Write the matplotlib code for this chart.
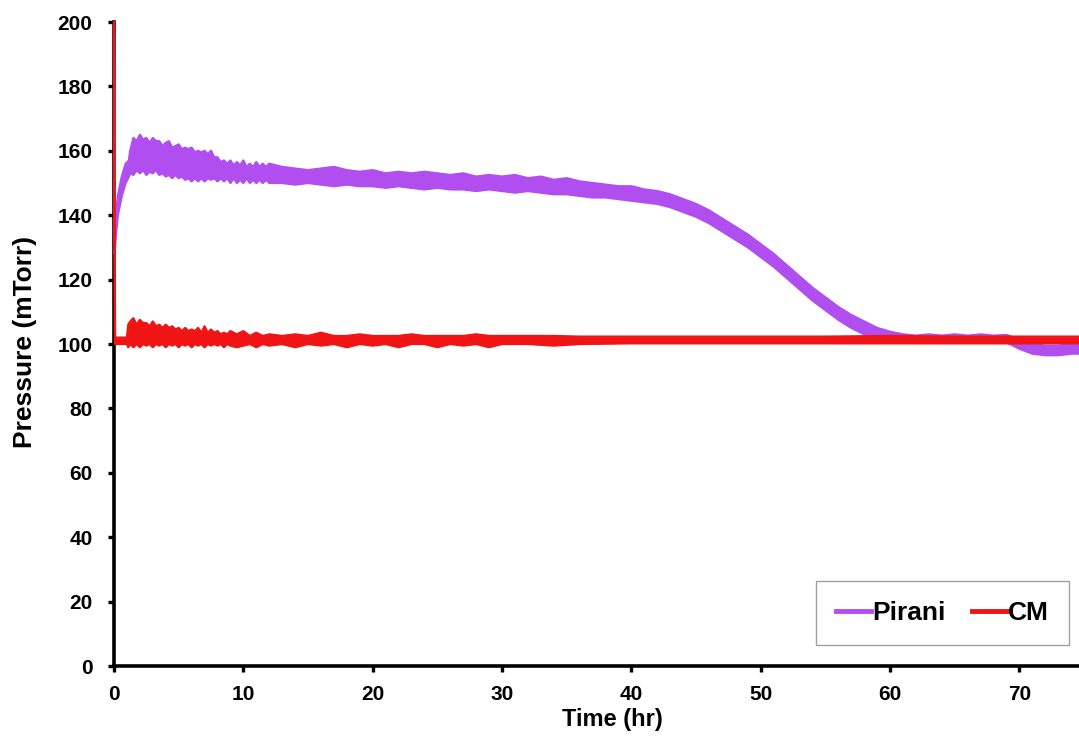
import matplotlib
matplotlib.use("Agg")
import matplotlib.pyplot as plt
from matplotlib.lines import Line2D

# ---- data ----
pirani_t = [0, 0.05, 0.15, 0.3, 0.6, 0.9, 1.15,
            1.25, 1.5, 1.75, 2.0, 2.25, 2.5, 2.75, 3.0, 3.25, 3.5, 3.75, 4.0, 4.25, 4.5, 4.75,
            5.0, 5.25, 5.5, 5.75, 6.0, 6.25, 6.5, 6.75, 7.0, 7.25, 7.5, 7.75, 8.0, 8.25, 8.5, 8.75,
            9.0, 9.25, 9.5, 9.75, 10.0, 10.25, 10.5, 10.75, 11.0, 11.25, 11.5, 11.75, 12.0,
            13, 14, 15, 16, 17, 18, 19, 20, 21, 22, 23, 24, 25, 26, 27, 28,
            29, 30, 31, 32, 33, 34, 35, 36, 37, 38, 39, 40, 41, 42, 43,
            44, 45, 46, 47, 48, 49, 50, 51, 52, 53, 54, 55, 56, 57, 58,
            59, 60, 61, 62, 63, 64, 65, 66, 67, 68, 69, 70, 71, 72, 73, 74, 74.6]
pirani_lo = [195, 128, 134, 140, 146, 150, 152,
             153, 152.5, 154, 153, 154, 152.5, 153.5, 153, 154, 152.5, 153, 152, 152.5, 151.5, 152.5,
             151.5, 152, 151, 151.5, 150.5, 151.5, 150.5, 151.5, 150.5, 151.5, 151, 151.5, 150.5, 151.5, 150.5, 151.5,
             150, 151.5, 150, 151, 150, 151.5, 150, 151, 150, 151, 150, 151, 150,
             150, 149.5, 150, 149.5, 149, 149.5, 149, 149, 148.5, 149, 148.5, 148, 148.5, 148, 148, 147.5,
             148, 147.5, 147, 147.5, 147, 146.5, 146.5, 146, 145.5, 145.5, 145, 144.5, 144, 143.5, 142.5,
             141, 139.5, 137.5, 135, 132.5, 130, 127, 124, 120.5, 117, 113.5, 110.5, 107.5, 105, 103,
             101.5, 100.8, 100.5, 100.8, 100.5, 100.8, 100.5, 100.8, 100.5, 100.8, 100.5, 98.5, 97, 96.5, 96.5, 97, 97]
pirani_hi = [200, 135, 140, 146, 152, 156, 157,
             160, 164, 163, 165, 163.5, 164, 162.5, 164, 163, 163, 161.5, 162.5, 163, 161, 161.5,
             162, 160.5, 161, 160.5, 161, 159.5, 160, 159.5, 160, 159, 160, 158, 158, 156.5, 157, 156,
             157, 155.5, 156.5, 155.5, 157, 155, 156, 155, 156.5, 155, 156, 155, 156,
             155, 154.5, 154, 154.5, 155, 154, 153.5, 154, 153, 153.5, 153, 153.5, 153, 152.5, 153, 152,
             152.5, 152, 152.5, 151.5, 152, 151, 151.5, 150.5, 150, 149.5, 149, 149, 148, 147.5, 146.5,
             145, 143.5, 141.5, 139, 136.5, 134, 131, 128, 124.5, 121, 117.5, 114.5, 111.5, 109, 107,
             105, 103.8, 103, 102.6, 103, 102.6, 103, 102.6, 103, 102.6, 102.8, 101.5, 100, 99.5, 99.5, 100, 100]

cm_t = [0, 0.08, 1.0,
        1.1, 1.25, 1.5, 1.75, 2.0, 2.25, 2.5, 2.75, 3.0, 3.25, 3.5, 3.75, 4.0, 4.25, 4.5, 4.75,
        5.0, 5.25, 5.5, 5.75, 6.0, 6.25, 6.5, 6.75, 7.0, 7.25, 7.5, 7.75, 8.0, 8.25, 8.5, 8.75,
        9.0, 9.5, 10.0, 10.5, 11.0, 11.5, 12.0,
        13, 14, 15, 16, 17, 18, 19, 20, 21, 22, 23, 24, 25, 26, 27, 28, 29, 30,
        32, 34, 36, 40, 45, 50, 55, 60, 65, 70, 74.6]
cm_lo = [199, 100, 100,
         99, 100, 99, 100, 99, 100, 99.5, 100, 99, 100, 99.5, 100, 99, 100, 99.5, 100,
         99, 100, 99.5, 100, 99, 100, 99.5, 100, 99, 100, 99.5, 100, 99.5, 100, 99, 100,
         99.5, 99, 99.5, 100, 99, 100, 99.5,
         100, 99, 100, 99.5, 100, 99, 100, 99.5, 100, 99, 100, 100, 99, 100, 99.5, 100, 99, 100,
         100, 99.5, 100, 100.2, 100.2, 100.2, 100.2, 100.2, 100.2, 100.2, 100.2]
cm_hi = [200, 102, 102,
         106, 107, 108, 106, 107.5, 106.5, 106.5, 105.5, 107, 105.5, 106, 105, 106, 105, 105.5, 104.5,
         105, 104, 105, 104, 104.5, 104, 105, 103.5, 105.5, 103.5, 104.5, 103.5, 104, 103, 103.5, 103,
         104, 103, 104, 102.5, 103.5, 102.5, 103,
         102.5, 103, 102.5, 103.5, 102.5, 102.5, 103, 102.5, 102.5, 102.5, 103, 102.5, 102.5, 102.5, 102.5, 103, 102.5, 102.5,
         102.5, 102.5, 102.3, 102.3, 102.3, 102.3, 102.3, 102.5, 102.3, 102.3, 102.3]

series_names = ["Pirani", "CM"]
series_colors = ["#B04EF0", "#F01414"]
x_ticks = [0, 10, 20, 30, 40, 50, 60, 70]
y_ticks = [0, 20, 40, 60, 80, 100, 120, 140, 160, 180, 200]

# ---- figure ----
plt.rcParams['font.family'] = ['Liberation Sans', 'DejaVu Sans']
plt.rcParams['font.weight'] = 'bold'

fig = plt.figure(figsize=(10.79, 7.45), dpi=100)
ax = fig.add_axes([114 / 1079, 1 - 666 / 745, 965 / 1079, 644 / 745])

for t, lo, hi, c in [(pirani_t, pirani_lo, pirani_hi, series_colors[0]),
                     (cm_t, cm_lo, cm_hi, series_colors[1])]:
    ax.fill_between(t, lo, hi, color=c, lw=0, zorder=3, clip_on=False)
    ax.plot(t, lo, color=c, lw=1.6, zorder=3, clip_on=False)
    ax.plot(t, hi, color=c, lw=1.6, zorder=3, clip_on=False)

ax.set_xlim(0, 74.6)
ax.set_ylim(0, 200)
ax.set_xticks(x_ticks)
ax.set_yticks(y_ticks)

for s in ["top", "right"]:
    ax.spines[s].set_visible(False)
for s in ["left", "bottom"]:
    ax.spines[s].set_linewidth(2.6)
    ax.spines[s].set_color("black")

ax.tick_params(axis="both", direction="out", length=4.5, width=2.4, labelsize=15, color="black")
ax.tick_params(axis="x", pad=9)
ax.tick_params(axis="y", pad=11)
for lab in ax.get_xticklabels() + ax.get_yticklabels():
    lab.set_fontweight("bold")

ax.set_xlabel("Time (hr)", fontsize=17, fontweight="bold")
ax.xaxis.set_label_coords(0.516, -0.065)
ax.set_ylabel("Pressure (mTorr)", fontsize=19, fontweight="bold", va="center")
ax.yaxis.set_label_coords(-0.0925, 0.503)

handles = [Line2D([0], [0], color=c, lw=3.5) for c in series_colors]
leg = ax.legend(handles, series_names, loc="lower right", bbox_to_anchor=(0.9896, 0.0326),
                ncol=2, frameon=True, fancybox=False, handlelength=1.33,
                handletextpad=0.05, columnspacing=1.0, borderaxespad=0, borderpad=0.75,
                prop={"weight": "bold", "size": 19})
leg.get_frame().set_edgecolor("#888888")
leg.get_frame().set_linewidth(1.0)

fig.savefig("out.png", dpi=100)
